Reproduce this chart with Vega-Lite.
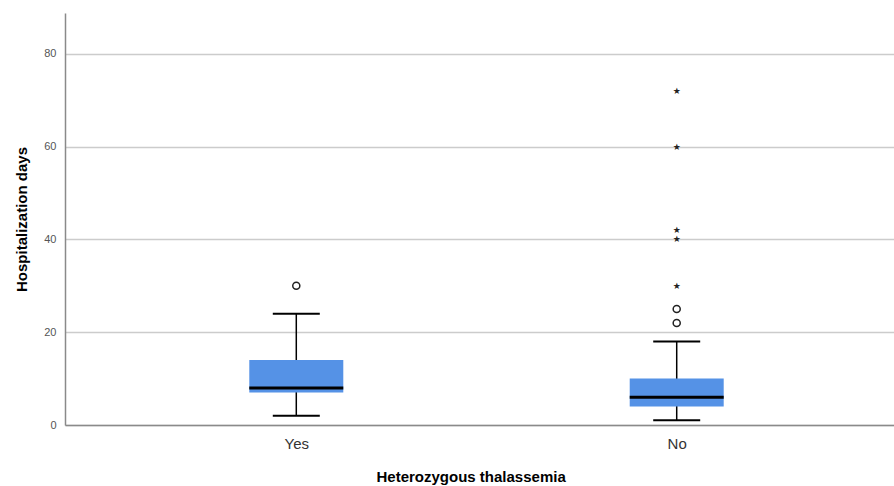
{
  "$schema": "https://vega.github.io/schema/vega-lite/v6.json",
  "autosize": {"type": "none"},
  "padding": {"left": 65, "top": 13, "right": 0, "bottom": 61},
  "width": 843,
  "height": 412,
  "background": "white",
  "datasets": {
    "boxes": [
      {"group": "Yes", "lo": 2, "q1": 7, "median": 8, "q3": 14, "hi": 24},
      {"group": "No", "lo": 1, "q1": 4, "median": 6, "q3": 10, "hi": 18}
    ],
    "outliers": [
      {"group": "Yes", "value": 30},
      {"group": "No", "value": 22},
      {"group": "No", "value": 25}
    ],
    "extremes": [
      {"group": "No", "value": 30},
      {"group": "No", "value": 40},
      {"group": "No", "value": 42},
      {"group": "No", "value": 60},
      {"group": "No", "value": 72}
    ]
  },
  "encoding": {
    "x": {
      "field": "group",
      "type": "nominal",
      "sort": ["Yes", "No"],
      "scale": {"type": "point", "domain": ["Yes", "No"], "padding": 0.608},
      "axis": {
        "title": "Heterozygous thalassemia",
        "labelAngle": 0,
        "labelFont": "Liberation Sans",
        "labelFontSize": 15,
        "labelColor": "#333333",
        "labelPadding": 11,
        "ticks": false,
        "grid": false,
        "domainColor": "#8a8a8a",
        "domainWidth": 1.5,
        "titleFont": "Liberation Sans",
        "titleFontSize": 15,
        "titleFontWeight": "bold",
        "titleColor": "#000000",
        "titlePadding": 18,
        "titleAnchor": "start",
        "titleX": 311
      }
    }
  },
  "layer": [
    {
      "data": {"name": "boxes"},
      "mark": {"type": "rule", "color": "#000000", "strokeWidth": 1.5},
      "encoding": {
        "y": {
          "field": "lo",
          "type": "quantitative",
          "scale": {"domain": [0, 88.8], "nice": false, "zero": true},
          "axis": {
            "title": "Hospitalization days",
            "values": [0, 20, 40, 60, 80],
            "labelFont": "Liberation Sans",
            "labelFontSize": 11,
            "labelColor": "#555555",
            "labelPadding": 9,
            "ticks": false,
            "grid": true,
            "gridColor": "#cccccc",
            "gridWidth": 1.5,
            "domainColor": "#8a8a8a",
            "domainWidth": 1.5,
            "titleFont": "Liberation Sans",
            "titleFontSize": 15,
            "titleFontWeight": "bold",
            "titleColor": "#000000",
            "titlePadding": 14
          }
        },
        "y2": {"field": "hi"}
      }
    },
    {
      "data": {"name": "boxes"},
      "mark": {"type": "bar", "color": "#5592e6", "size": 94},
      "encoding": {
        "y": {"field": "q1", "type": "quantitative"},
        "y2": {"field": "q3"}
      }
    },
    {
      "data": {"name": "boxes"},
      "mark": {"type": "tick", "color": "#000000", "size": 94, "thickness": 3, "opacity": 1},
      "encoding": {"y": {"field": "median", "type": "quantitative"}}
    },
    {
      "data": {"name": "boxes"},
      "mark": {"type": "tick", "color": "#000000", "size": 47, "thickness": 2, "opacity": 1},
      "encoding": {"y": {"field": "lo", "type": "quantitative"}}
    },
    {
      "data": {"name": "boxes"},
      "mark": {"type": "tick", "color": "#000000", "size": 47, "thickness": 2, "opacity": 1},
      "encoding": {"y": {"field": "hi", "type": "quantitative"}}
    },
    {
      "data": {"name": "outliers"},
      "mark": {"type": "point", "shape": "circle", "filled": false, "stroke": "#222222", "strokeWidth": 1.5, "size": 50, "opacity": 1},
      "encoding": {"y": {"field": "value", "type": "quantitative"}}
    },
    {
      "data": {"name": "extremes"},
      "mark": {"type": "text", "text": "★", "font": "DejaVu Sans", "fontSize": 9, "color": "#222222", "baseline": "middle", "align": "center"},
      "encoding": {"y": {"field": "value", "type": "quantitative"}}
    }
  ],
  "config": {"view": {"stroke": null}}
}
